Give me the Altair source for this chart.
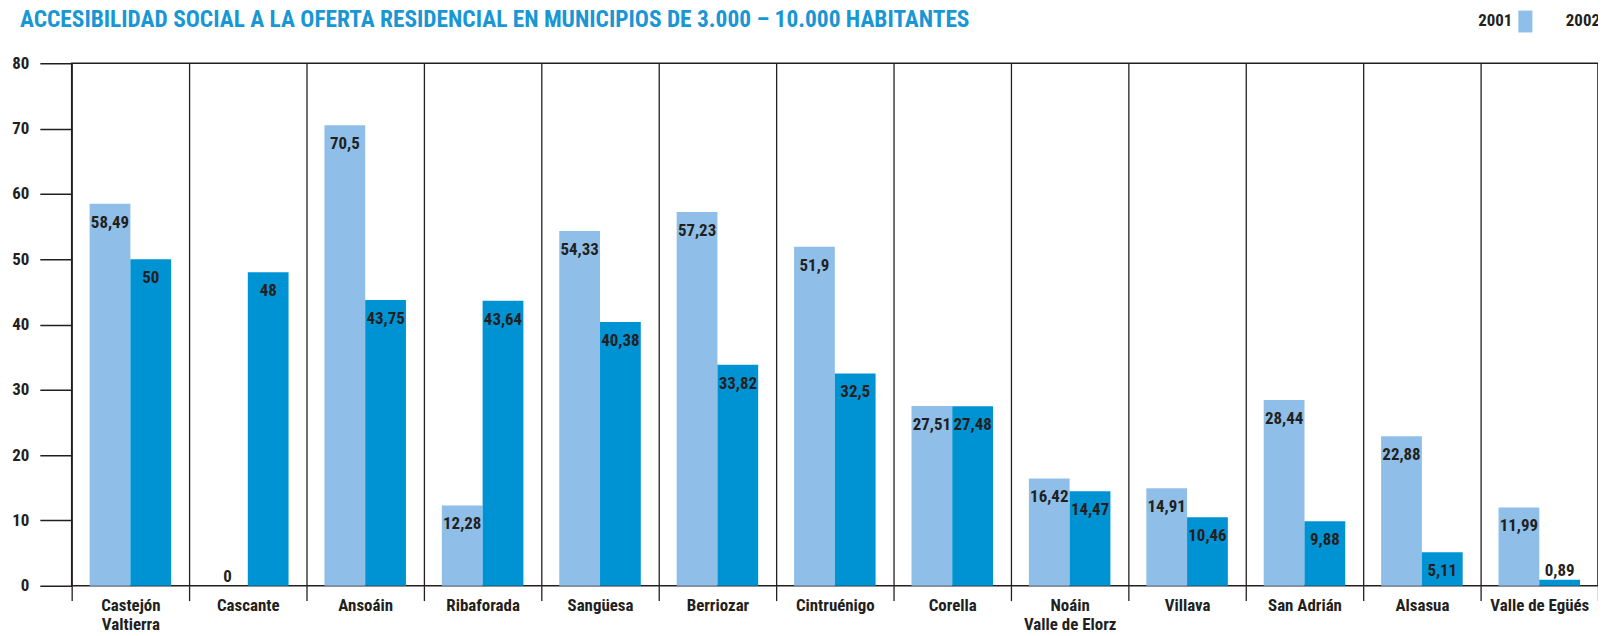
import altair as alt
import pandas as pd

categories = ["Castejón\nValtierra", "Cascante", "Ansoáin", "Ribaforada", "Sangüesa",
              "Berriozar", "Cintruénigo", "Corella", "Noáin\nValle de Elorz", "Villava",
              "San Adrián", "Alsasua", "Valle de Egüés"]
years = ["2001", "2002"]
values_2001 = [58.49, 0, 70.5, 12.28, 54.33, 57.23, 51.9, 27.51, 16.42, 14.91, 28.44, 22.88, 11.99]
values_2002 = [50, 48, 43.75, 43.64, 40.38, 33.82, 32.5, 27.48, 14.47, 10.46, 9.88, 5.11, 0.89]
y_ticks = [0, 10, 20, 30, 40, 50, 60, 70, 80]

rows = []
for i, c in enumerate(categories):
    rows.append({"municipio": c, "year": years[0], "value": values_2001[i]})
    rows.append({"municipio": c, "year": years[1], "value": values_2002[i]})
df = pd.DataFrame(rows)

FONT = "Roboto Condensed, Liberation Sans Narrow, Roboto, sans-serif"
DARK = "#231f20"
LIGHT_BLUE = "#8fbfe8"
BLUE = "#0093d3"
TITLE_BLUE = "#1996d4"

base = alt.Chart(df).encode(
    x=alt.X("municipio:N", sort=categories,
            scale=alt.Scale(paddingInner=0, paddingOuter=0),
            axis=alt.Axis(title=None, grid=True, tickBand="extent", ticks=True, tickSize=15,
                          gridColor=DARK, tickColor=DARK, gridWidth=1.3, tickWidth=1.3,
                          gridOpacity=1, domain=False, labelAngle=0, labelFont=FONT,
                          labelFontSize=17, labelFontWeight="bold", labelColor=DARK,
                          labelPadding=10, labelBaseline="alphabetic", labelLineHeight=19,
                          labelExpr="split(datum.label, '\\n')")),
    xOffset=alt.XOffset("year:N", sort=years, scale=alt.Scale(paddingInner=0, paddingOuter=0.44)),
)

bars = base.mark_bar().encode(
    y=alt.Y("value:Q", scale=alt.Scale(domain=[0, 80], nice=False),
            axis=alt.Axis(title=None, values=y_ticks, tickSize=32, tickColor=DARK, tickWidth=1.5,
                          domain=False, grid=False, labelFont=FONT, labelFontSize=17,
                          labelFontWeight="bold", labelColor=DARK, labelPadding=11)),
    color=alt.Color("year:N", sort=years,
                    scale=alt.Scale(domain=years, range=[LIGHT_BLUE, BLUE]),
                    legend=alt.Legend(title=None, orient="none", legendX=1450, legendY=-53,
                                      direction="horizontal",
                                      symbolType="M-0.64,-1H0.64V1H-0.64Z", symbolSize=484,
                                      symbolStrokeWidth=0, labelAlign="right",
                                      labelOffset={"expr": "-24"},
                                      columnPadding=32, labelFont=FONT, labelFontSize=17,
                                      labelFontWeight="bold", labelColor=DARK, padding=0)),
)

label_expr = "replace(toString(datum.value), '.', ',')"

labels_in = base.mark_text(baseline="alphabetic", dy=24, font=FONT, fontSize=17,
                           fontWeight="bold", color=DARK).encode(
    y=alt.Y("value:Q"), text="label:N"
).transform_calculate(label=label_expr).transform_filter("datum.value >= 3")

labels_out = base.mark_text(baseline="alphabetic", dy=-4, font=FONT, fontSize=17,
                            fontWeight="bold", color=DARK).encode(
    y=alt.Y("value:Q"), text="label:N"
).transform_calculate(label=label_expr).transform_filter("datum.value < 3")

chart = alt.layer(bars, labels_in, labels_out).properties(
    width=1534, height=525,
    autosize=alt.AutoSizeParams(type="none"),
    padding={"left": 64, "top": 54, "right": 0, "bottom": 49},
    title=alt.TitleParams(
        text="ACCESIBILIDAD SOCIAL A LA OFERTA RESIDENCIAL EN MUNICIPIOS DE 3.000 – 10.000 HABITANTES",
        anchor="start", frame="group", font=FONT, fontSize=23.5, fontWeight="bold",
        color=TITLE_BLUE, dx=-52, dy=40, baseline="alphabetic", offset=0),
).configure_view(stroke=DARK, strokeWidth=1.5)

chart.save("out.html", embed_options={"renderer": "svg", "actions": False})
